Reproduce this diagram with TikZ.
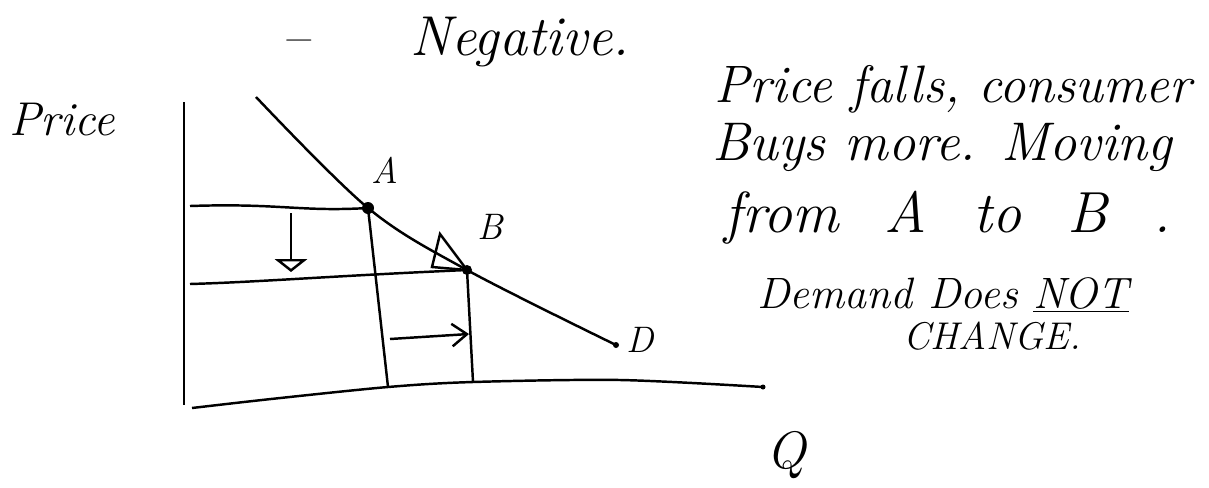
\documentclass[tikz,border=0pt]{standalone}
\usepackage{tikz}
\usetikzlibrary{arrows.meta,positioning,calc}

\begin{document}
\begin{tikzpicture}[x=0.02cm,y=-0.02cm,line width=1.4pt,
    dot/.style={circle,fill=black,inner sep=0pt,minimum size=#1},
    dot/.default=0.2cm,
    hand/.style={font=\fontsize{#1}{#1}\selectfont\itshape,inner sep=0pt},
    note/.style={hand=#1,anchor=base}]
    \useasboundingbox (0,0) rectangle (1209,487);

    % Axes
    \coordinate (yTop) at (184,102);
    \coordinate (O) at (184,405);
    \coordinate (xStart) at (192,408);
    \coordinate (aBot) at (388,387);
    \coordinate (bBot) at (473,382);
    \node[dot=0.1cm] (xEnd) at (763,387) {};
    \draw (yTop) -- (O);
    \draw plot[smooth] coordinates {(xStart) (271,399) (aBot) (bBot) (620,380) (xEnd.center)};

    % Demand curve
    \coordinate (cTop) at (256,97);
    \node[dot=0.24cm] (A) at (368,208) {};
    \node[dot] (B) at (467,270) {};
    \node[dot=0.12cm] (D) at (616,345) {};
    \draw plot[smooth,tension=0.55] coordinates {(cTop) (A.center) (B.center) (D.center)};

    % Price and quantity lines
    \coordinate (aLeft) at (190,206);
    \coordinate (bLeft) at (190,284);
    \draw (aLeft) .. controls (280,203) and (300,212) .. (A.center);
    \draw (bLeft) .. controls (260,282) and (330,276) .. (B.center);
    \draw (A.center) -- (aBot);
    \draw (B.center) -- (bBot);

    % Movement arrows
    \coordinate (dnTop) at (291,213);
    \coordinate (dnTip) at (291,272);
    \draw[-{Triangle[open,length=0.26cm,width=0.65cm]}] (dnTop) -- (dnTip);
    \coordinate (rtStart) at (390,339);
    \coordinate (rtTip) at (469,334);
    \draw[-{Straight Barb[length=0.3cm,width=0.45cm]}] (rtStart) -- (rtTip);

    % Delta
    \coordinate (dTop) at (440,234);
    \coordinate (dLeft) at (432,267);
    \draw (dTop) -- (dLeft) -- (B.center) -- cycle;

    % Labels
    \node[hand=21pt] (labA) at (385,170) {A};
    \node[hand=21pt] (labB) at (490,227) {B};
    \node[hand=21pt] (labD) at (640,340) {D};
    \node[hand=30pt] (labQ) at (786,455) {Q};
    \node[note=27pt] (labP) at (62,135) {Price};
    \node[note=32pt] (dash) at (296,55) {--};
    \node[note=32pt] (neg) at (520,55) {Negative.};

    % Explanation
    \node[note=30pt] (t1) at (953,102) {Price falls, consumer};
    \node[note=31pt] (t2) at (942,160) {Buys more. Moving};
    \node[note=33pt] (t3) at (948,232) {from\hspace{0.8em}A\hspace{0.8em}to\hspace{0.8em}B\hspace{0.8em}.};
    \node[note=25pt] (t4) at (943,308) {Demand Does \underline{NOT}};
    \node[note=22pt] (t5) at (992,349) {CHANGE.};
\end{tikzpicture}
\end{document}
